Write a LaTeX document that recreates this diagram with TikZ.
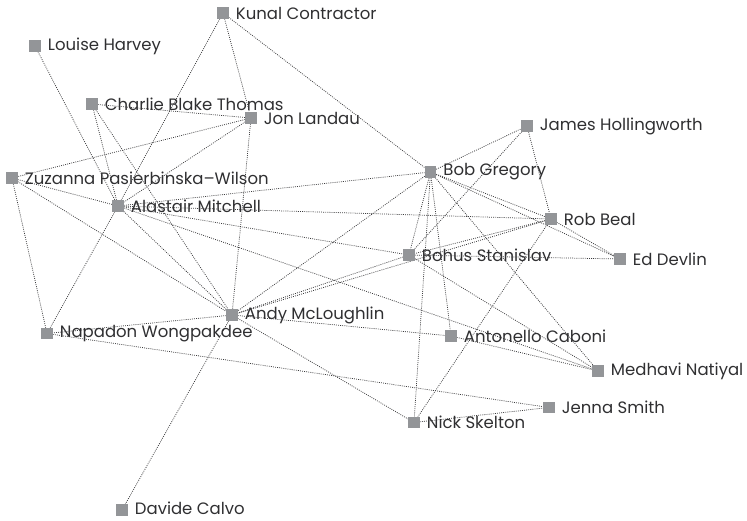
\documentclass[tikz,border=0pt]{standalone}
\usepackage{fontspec}
\setmainfont{Poppins}
\usetikzlibrary{backgrounds}
\pgfdeclarelayer{edges}
\pgfsetlayers{background,edges,main}
\definecolor{sqgrey}{HTML}{939598}
\definecolor{txtgrey}{HTML}{2F2F31}
\definecolor{lnkgrey}{HTML}{3C3C3E}
\tikzset{
  person/.style={fill=sqgrey, draw=none, minimum size=11.5pt, inner sep=0pt, outer sep=0pt},
  lbl/.style={anchor=west, text=txtgrey, font=\fontsize{16.5}{18}\selectfont, inner sep=0pt, xshift=7pt},
  link/.style={draw=lnkgrey, line width=0.75pt, dash pattern=on 0.9pt off 1.2pt}
}
\newcommand{\person}[4]{%
  \node[person] (#1) at (#2) {};
  \begin{pgfonlayer}{background}\node[lbl,#4] (#1-l) at (#1.east) {#3};\end{pgfonlayer}}
\begin{document}
\begin{tikzpicture}[x=1pt, y=-1pt]
\useasboundingbox (0,0) rectangle (747,520);
\person{kc}{223,13}{Kunal Contractor}{}
\person{lh}{35,46}{Louise Harvey}{}
\person{cbt}{92,104}{Charlie Blake Thomas}{}
\person{jl}{251,118}{Jon Landau}{}
\person{zpw}{12,178}{Zuzanna Pasierbinska–Wilson}{}
\person{am}{118,206}{Alastair Mitchell}{}
\person{bg}{430.5,172}{Bob Gregory}{}
\person{jh}{527,126}{James Hollingworth}{}
\person{rb}{551,219}{Rob Beal}{}
\person{bs}{409,255}{Bohus Stanislav}{}
\person{ed}{620,259}{Ed Devlin}{}
\person{aml}{232,315}{Andy McLoughlin}{}
\person{nw}{47,333.5}{Napadon Wongpakdee}{}
\person{ac}{451,336}{Antonello Caboni}{}
\person{mn}{598,371}{Medhavi Natiyal}{}
\person{js}{549,407.5}{Jenna Smith}{}
\person{ns}{414,422.5}{Nick Skelton}{}
\person{dc}{122,510}{Davide Calvo}{yshift=1.5pt}
\begin{pgfonlayer}{edges}
\draw[link] (kc) -- (am);
\draw[link] (kc) -- (jl);
\draw[link] (kc) -- (bg);
\draw[link] (lh) -- (am);
\draw[link] (cbt) -- (jl);
\draw[link] (cbt) -- (am);
\draw[link] (cbt) -- (aml);
\draw[link] (jl) -- (zpw);
\draw[link] (jl) -- (am);
\draw[link] (jl) -- (aml);
\draw[link] (zpw) -- (am);
\draw[link] (zpw) -- (aml);
\draw[link] (zpw) -- (nw);
\draw[link] (am) -- (bg);
\draw[link] (am) -- (rb);
\draw[link] (am) -- (bs);
\draw[link] (am) -- (mn);
\draw[link] (am) -- (aml);
\draw[link] (am) -- (nw);
\draw[link] (bg) -- (jh);
\draw[link] (bg) -- (rb);
\draw[link] (bg) -- (ed);
\draw[link] (bg) -- (aml);
\draw[link] (bg) -- (bs);
\draw[link] (bg) -- (ns);
\draw[link] (bg) -- (ac);
\draw[link] (bg) -- (mn);
\draw[link] (jh) -- (bs);
\draw[link] (jh) -- (rb);
\draw[link] (rb) -- (bs);
\draw[link] (rb) -- (aml);
\draw[link] (rb) -- (ed);
\draw[link] (rb) -- (ns);
\draw[link] (bs) -- (aml);
\draw[link] (bs) -- (ed);
\draw[link] (bs) -- (mn);
\draw[link] (aml) -- (nw);
\draw[link] (aml) -- (ac);
\draw[link] (aml) -- (ns);
\draw[link] (aml) -- (dc);
\draw[link] (nw) -- (js);
\draw[link] (ac) -- (mn);
\draw[link] (ns) -- (js);
\end{pgfonlayer}
\end{tikzpicture}
\end{document}
